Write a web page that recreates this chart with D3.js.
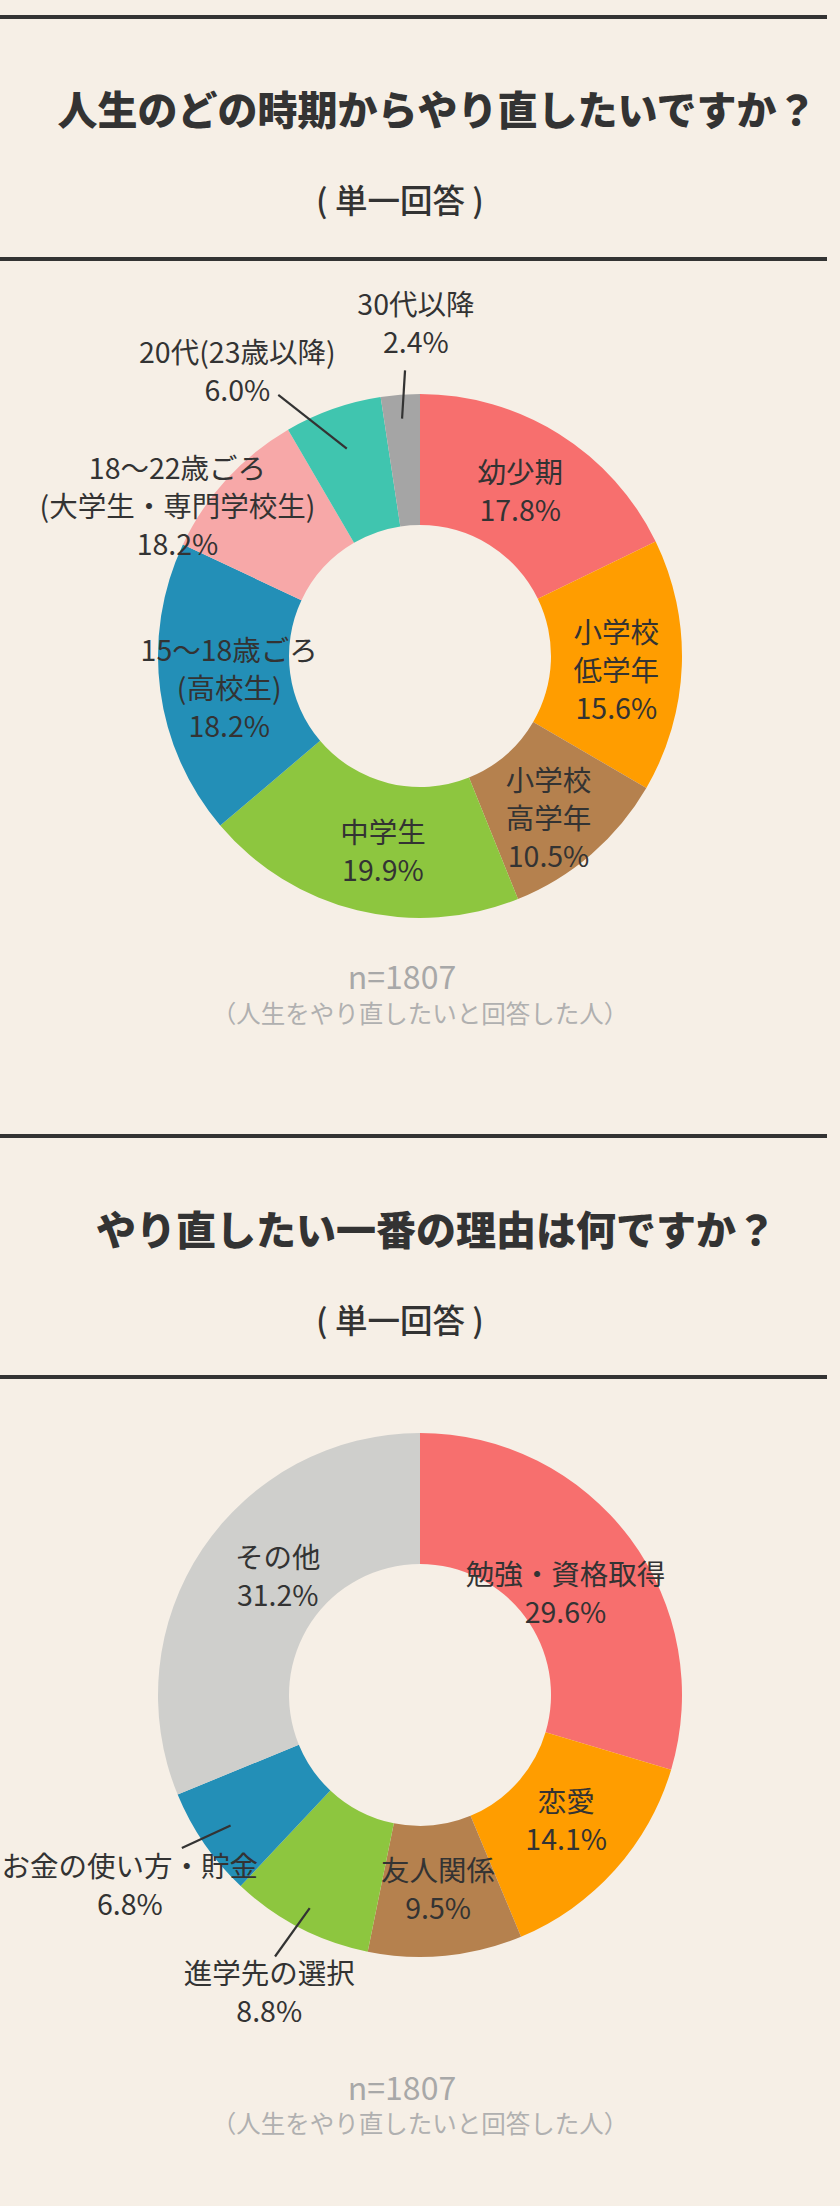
<!DOCTYPE html>
<html>
<head>
<meta charset="utf-8">
<script src="https://cdn.jsdelivr.net/npm/d3@7"></script>
<style>
  html, body { margin: 0; padding: 0; background: #f6efe6; }
  svg { display: block; }
</style>
</head>
<body>
<script>
// ---- data ----
const stageNames = ["幼少期", "小学校\n低学年", "小学校\n高学年", "中学生",
  "15～18歳ごろ\n(高校生)", "18～22歳ごろ\n(大学生・専門学校生)", "20代(23歳以降)", "30代以降"];
// slice sizes as drawn
const stageValues = [17.8, 15.6, 10.5, 19.9, 18.2, 9.6, 6.0, 2.4];
// percentages as printed on the chart
const stageLabels = [17.8, 15.6, 10.5, 19.9, 18.2, 18.2, 6.0, 2.4];

const reasonNames = ["勉強・資格取得", "恋愛", "友人関係", "進学先の選択", "お金の使い方・貯金", "その他"];
const reasonValues = [29.6, 14.1, 9.5, 8.8, 6.8, 31.2];
const reasonLabels = [29.6, 14.1, 9.5, 8.8, 6.8, 31.2];

const sampleText = "n=1807";
const noteText = "（人生をやり直したいと回答した人）";

// ---- style / layout ----
const W = 840, H = 2206;
const ink = "#333333";
const fontJP = "'Noto Sans CJK JP', 'Noto Sans', sans-serif";
const innerR = 131, outerR = 262;
const lineH = 38;

const colors1 = ["#f76f6e", "#ff9d00", "#b5814e", "#8dc63f", "#238fb7", "#f7a8a8", "#40c5af", "#a5a5a5"];
const colors2 = ["#f76f6e", "#ff9d00", "#b5814e", "#8dc63f", "#238fb7", "#cfcfcc"];

// label placement: inside labels get a small nudge from the centroid,
// outside labels sit at (angle, r) with an optional leader line
const place1 = [
  {dx: -4, dy: 0},
  {dx: 0, dy: 5},
  {dx: 0, dy: 12},
  {dx: 10, dy: 3},
  {dx: 4, dy: 5},
  {angle: 302, r: 286},
  {angle: 327.5, r: 340, leader: {r0: 220, angle: 331.5, r1: 297}},
  {angle: 359.3, r: 335, leader: {r0: 238, angle: 357, r1: 286}}
];
const place2 = [
  {dx: -12, dy: 14},
  {dx: 0, dy: -8},
  {dx: -1, dy: -3},
  {angle: 207, r: 332, leader: {r0: 240, angle: 209, r1: 299}},
  {angle: 237, r: 346, leader: {r0: 230, angle: 237.3, r1: 283}},
  {dx: 21, dy: -11}
];

const sections = [
  {title: "人生のどの時期からやり直したいですか？", titleX: 437, top: 17, titleY: 108, subY: 198, bottom: 259,
   cy: 656, nY: 975, noteY: 1012, names: stageNames, values: stageValues, labels: stageLabels,
   colors: colors1, place: place1},
  {title: "やり直したい一番の理由は何ですか？", titleX: 436, top: 1136, titleY: 1228, subY: 1318, bottom: 1377,
   cy: 1695, nY: 2086, noteY: 2122, names: reasonNames, values: reasonValues, labels: reasonLabels,
   colors: colors2, place: place2}
];
const cx = 420;

const svg = d3.select("body").append("svg")
  .attr("width", W).attr("height", H)
  .attr("viewBox", [0, 0, W, H]);

svg.append("rect").attr("width", W).attr("height", H).attr("fill", "#f6efe6");

const pie = d3.pie().sort(null).value(d => d);
const arc = d3.arc().innerRadius(innerR).outerRadius(outerR);

// polar helper, angle in degrees clockwise from 12 o'clock
const polar = (deg, r) => {
  const a = deg * Math.PI / 180;
  return [Math.sin(a) * r, -Math.cos(a) * r];
};

sections.forEach(s => {
  // header rules
  svg.append("g").selectAll("line")
    .data([s.top, s.bottom])
    .join("line")
      .attr("x1", 0).attr("x2", 827)
      .attr("y1", d => d).attr("y2", d => d)
      .attr("stroke", ink).attr("stroke-width", 4);

  svg.append("text")
    .attr("x", s.titleX).attr("y", s.titleY)
    .attr("text-anchor", "middle").attr("dominant-baseline", "central")
    .style("font", `900 40px ${fontJP}`)
    .attr("fill", ink)
    .text(s.title);

  svg.append("text")
    .attr("x", 400).attr("y", s.subY)
    .attr("text-anchor", "middle").attr("dominant-baseline", "central")
    .style("font", `500 32.5px ${fontJP}`)
    .attr("fill", ink)
    .text("( 単一回答 )");

  const g = svg.append("g").attr("transform", `translate(${cx},${s.cy})`);
  const arcs = pie(s.values);

  g.append("g").selectAll("path")
    .data(arcs)
    .join("path")
      .attr("fill", (d, i) => s.colors[i])
      .attr("d", arc);

  // leader lines
  g.append("g").selectAll("line")
    .data(arcs.filter((d, i) => s.place[i].leader))
    .join("line")
      .each(function(d) {
        const p = s.place[d.index].leader;
        const mid = (d.startAngle + d.endAngle) / 2 * 180 / Math.PI;
        const [x0, y0] = polar(mid, p.r0);
        const [x1, y1] = polar(p.angle, p.r1);
        d3.select(this).attr("x1", x0).attr("y1", y0).attr("x2", x1).attr("y2", y1);
      })
      .attr("stroke", ink).attr("stroke-width", 2.2);

  // labels
  const label = g.append("g")
      .attr("text-anchor", "middle")
      .style("font", `400 28.5px ${fontJP}`)
      .attr("fill", ink)
    .selectAll("text")
    .data(arcs)
    .join("text")
      .attr("transform", (d, i) => {
        const p = s.place[i];
        let x, y;
        if (p.angle !== undefined) {
          [x, y] = polar(p.angle, p.r);
        } else {
          [x, y] = arc.centroid(d);
          x += p.dx; y += p.dy;
        }
        return `translate(${x},${y})`;
      });

  label.selectAll("tspan")
    .data((d, i) => {
      const lines = s.names[i].split("\n").concat([s.labels[i].toFixed(1) + "%"]);
      return lines.map((t, k) => ({t, off: (k - (lines.length - 1) / 2) * lineH}));
    })
    .join("tspan")
      .attr("x", 0)
      .attr("y", d => d.off)
      .attr("dominant-baseline", "central")
      .text(d => d.t);

  svg.append("text")
    .attr("x", 402).attr("y", s.nY)
    .attr("text-anchor", "middle").attr("dominant-baseline", "central")
    .style("font", `400 32px ${fontJP}`)
    .attr("fill", "#a8a8a8")
    .text(sampleText);

  svg.append("text")
    .attr("x", 420).attr("y", s.noteY)
    .attr("text-anchor", "middle").attr("dominant-baseline", "central")
    .style("font", `400 24.5px ${fontJP}`)
    .attr("fill", "#b0b0b0")
    .text(noteText);
});
</script>
</body>
</html>
